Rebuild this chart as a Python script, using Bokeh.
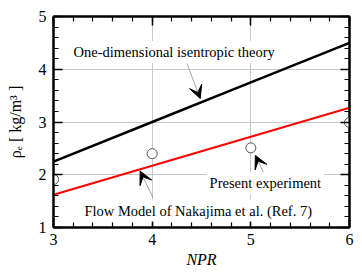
import numpy as np
from bokeh.plotting import figure
from bokeh.models import (Range1d, LinearAxis, SingleIntervalTicker, Label, Arrow, VeeHead, Grid)
from bokeh.embed import file_html
from bokeh.resources import INLINE

# ---- data ----
npr_theory = [3, 4, 5, 6]
rho_theory = [2.25, 3.0, 3.75, 4.5]          # one-dimensional isentropic theory
npr_model = [3, 4, 5, 6]
rho_model = [1.62, 2.17, 2.72, 3.27]          # flow model of Nakajima et al.
npr_exp = [3, 4, 5, 6]
rho_exp = [1.91, 2.40, 2.51, 2.99]            # present experiment
x_axis_title = "NPR"
y_axis_title = "\u03c1\u2091 [ kg/m\u00b3 ]"
label_theory = "One-dimensional isentropic theory"
label_exp = "Present experiment"
label_model = "Flow Model of Nakajima et al. (Ref. 7)"

SERIF = "Liberation Serif"

p = figure(width=362, height=273, output_backend="svg", toolbar_location=None,
           x_range=Range1d(3, 6), y_range=Range1d(1, 5),
           frame_width=296, frame_height=211,
           min_border_left=53, min_border_right=13, min_border_top=16, min_border_bottom=46,
           x_axis_type=None, y_axis_type=None)
p.background_fill_color = "white"
p.border_fill_color = "white"
p.outline_line_color = "black"
p.outline_line_width = 2

def style_axis(ax, show_labels, ticks):
    ax.ticker = SingleIntervalTicker(interval=1, num_minor_ticks=5)
    ax.axis_line_color = "black"
    ax.axis_line_width = 2
    ax.major_tick_in = 9
    ax.major_tick_out = 0
    ax.minor_tick_in = 5
    ax.minor_tick_out = 0
    ax.major_tick_line_width = 1.5
    ax.minor_tick_line_width = 1.2
    ax.major_tick_line_color = "black"
    ax.minor_tick_line_color = "black"
    ax.major_label_text_font = SERIF
    ax.major_label_text_font_size = "16px"
    ax.major_label_text_color = "black"
    ax.axis_label_text_color = "black"
    if not show_labels:
        ax.major_label_overrides = {t: "" for t in ticks}
        ax.major_label_standoff = 0

xb = LinearAxis()
style_axis(xb, True, npr_theory)
xb.major_label_standoff = 6
xb.axis_label = x_axis_title
xb.axis_label_text_font = SERIF
xb.axis_label_text_font_style = "italic"
xb.axis_label_text_font_size = "16px"
xb.axis_label_standoff = 3
p.add_layout(xb, "below")

yl = LinearAxis()
style_axis(yl, True, [1, 2, 3, 4, 5])
yl.major_label_standoff = 7
yl.axis_label = y_axis_title
yl.axis_label_text_font = SERIF
yl.axis_label_text_font_style = "normal"
yl.axis_label_text_font_size = "16px"
yl.axis_label_standoff = 12
p.add_layout(yl, "left")

xt = LinearAxis()
style_axis(xt, False, npr_theory)
p.add_layout(xt, "above")
yr = LinearAxis()
style_axis(yr, False, [1, 2, 3, 4, 5])
p.add_layout(yr, "right")

p.add_layout(Grid(dimension=0, ticker=xb.ticker, grid_line_color="#c8c8c8", grid_line_width=1))
p.add_layout(Grid(dimension=1, ticker=yl.ticker, grid_line_color="#c8c8c8", grid_line_width=1))

p.line(npr_theory, rho_theory, line_color="black", line_width=2.5)
p.line(npr_model, rho_model, line_color="#ff0000", line_width=2)
p.scatter(npr_exp, rho_exp, marker="circle", size=10, fill_color="white",
          line_color="#555555", line_width=1)

def px2x(px):
    return 3 + (px - 53.5) / 98.5

def px2y(py):
    return 5 - (py - 16.5) / 52.6

def add_text(txt, cx, cy):
    p.add_layout(Label(x=px2x(cx), y=px2y(cy), text=txt, text_font=SERIF,
                       text_font_size="14.5px", text_color="black",
                       text_align="center", text_baseline="middle",
                       background_fill_color="white", background_fill_alpha=1.0,
                       padding=3))

add_text(label_theory, 174, 52)
add_text(label_exp, 265, 183)
add_text(label_model, 198, 210)

def add_arrow(tx, ty, hx, hy):
    p.add_layout(Arrow(x_start=px2x(tx), y_start=px2y(ty), x_end=px2x(hx), y_end=px2y(hy),
                       line_color="#8a8a8a", line_width=0.8,
                       end=VeeHead(size=13, fill_color="black", line_color="black", line_width=1)))

add_arrow(186.7, 63.3, 200, 98.3)
add_arrow(152.7, 196.7, 140, 170.7)
add_arrow(263, 171.7, 255, 155)

open("out.html", "w").write(file_html(p, INLINE))
